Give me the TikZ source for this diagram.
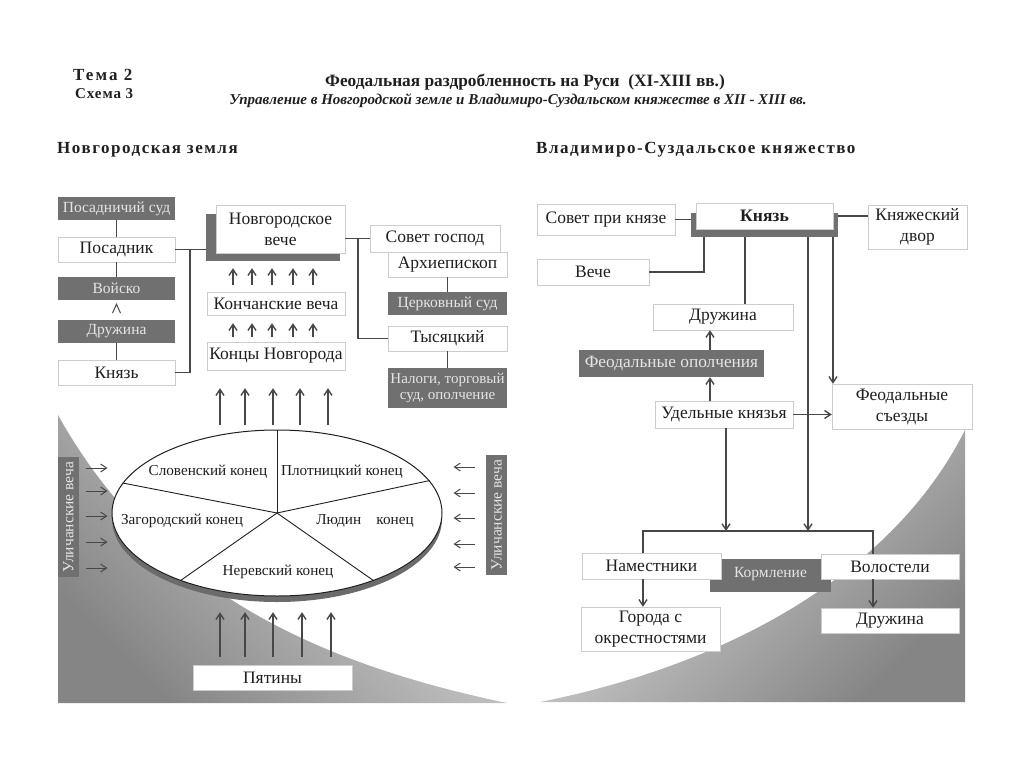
\documentclass[tikz,border=0pt]{standalone}
\usepackage{fontspec}
\setmainfont{Liberation Serif}
\usetikzlibrary{arrows.meta, positioning, calc, shapes.geometric}
\definecolor{mainBlack}{gray}{0.12}
\definecolor{lineGray}{gray}{0.28}
\definecolor{borderGray}{gray}{0.8}
\definecolor{boxGray}{gray}{0.44}
\definecolor{textLight}{gray}{0.9}
\definecolor{edgeGray}{gray}{0.42}
\definecolor{shadeDark}{gray}{0.52}
\definecolor{shadeLight}{gray}{0.88}

\tikzset{
  box/.style={draw=borderGray, fill=white, text=mainBlack, align=center, inner sep=1pt,
    font=\fontsize{17.5}{21}\selectfont},
  darkbox/.style={fill=boxGray, text=textLight, align=center, inner sep=1pt,
    font=\fontsize{15.5}{16.5}\selectfont},
  shadowbox/.style={fill=boxGray, inner sep=0pt},
  endlabel/.style={text=mainBlack, font=\fontsize{15.2}{16}\selectfont},
  heading/.style={anchor=west, inner sep=0pt, text=mainBlack},
  link/.style={draw=lineGray, line width=1.4pt},
  arr/.style={link, -{Straight Barb[length=6pt,width=8pt]}},
}

\begin{document}
\begin{tikzpicture}[x=1pt, y=-1pt]
    \useasboundingbox (0,0) rectangle (1024,767);

    % Background
    \shade[top color=shadeLight, bottom color=shadeDark, shading angle=-45]
      (58,415) .. controls (150,580) and (300,660) .. (507,703) -- (58,703) -- cycle;
    \shade[top color=shadeLight, bottom color=shadeDark, shading angle=45]
      (540,702) .. controls (750,660) and (900,560) .. (965,430) -- (965,702) -- cycle;

    % Headings
    \node[heading, font=\fontsize{17}{18}\selectfont\bfseries\addfontfeatures{LetterSpace=12}] (tema) at (73,75) {Тема 2};
    \node[heading, font=\fontsize{15}{16}\selectfont\bfseries\addfontfeatures{LetterSpace=6}] (shema) at (75,94) {Схема 3};
    \node[text=mainBlack, font=\fontsize{17.3}{18}\selectfont\bfseries] (title) at (525,82) {Феодальная раздробленность на Руси\ \ (XI-XIII вв.)};
    \node[text=mainBlack, font=\fontsize{15}{16}\selectfont\bfseries\itshape] (subtitle) at (518,101) {Управление в Новгородской земле и Владимиро-Суздальском княжестве в XII - XIII вв.};
    \node[heading, font=\fontsize{17}{18}\selectfont\bfseries\addfontfeatures{LetterSpace=9}] (novhead) at (57,150) {Новгородская земля};
    \node[heading, font=\fontsize{17}{18}\selectfont\bfseries\addfontfeatures{LetterSpace=9}] (vladhead) at (536,150) {Владимиро-Суздальское княжество};

    % Novgorod: left column
    \node[darkbox, minimum width=117, minimum height=23] (possud) at (116.5,208.5) {Посадничий суд};
    \node[box, minimum width=117, minimum height=25] (posadnik) at (116.5,249.5) {Посадник};
    \node[darkbox, minimum width=117, minimum height=23] (voysko) at (116.5,288.5) {Войско};
    \node[darkbox, minimum width=117, minimum height=23] (druzhina) at (116.5,331.5) {Дружина};
    \node[box, minimum width=117, minimum height=25] (knyaz) at (116.5,372.5) {Князь};

    % Novgorod: veche
    \node[shadowbox, minimum width=134, minimum height=47] (vecheshadow) at (273,237.5) {};
    \node[box, minimum width=129, minimum height=48] (veche) at (280.5,229) {Новгородское\\вече};
    \node[box, minimum width=138, minimum height=23] (konveche) at (276,303.5) {Кончанские веча};
    \node[box, minimum width=138, minimum height=28] (koncy) at (276,356) {Концы Новгорода};

    % Novgorod: right column
    \node[box, minimum width=130, minimum height=27] (sovet) at (435,238.5) {Совет господ};
    \node[box, minimum width=119, minimum height=25] (arhi) at (447.5,264.5) {Архиепископ};
    \node[darkbox, minimum width=119, minimum height=23] (cerksud) at (447.5,303.5) {Церковный суд};
    \node[box, minimum width=119, minimum height=25] (tys) at (447.5,338.5) {Тысяцкий};
    \node[darkbox, minimum width=119, minimum height=40, font=\fontsize{15}{16.5}\selectfont] (nalogi) at (447.5,388) {Налоги, торговый\\суд, ополчение};

    % Novgorod: ends of the city
    \node[ellipse, fill=edgeGray, minimum width=330, minimum height=166] (konciedge) at (277,519) {};
    \node[ellipse, draw=mainBlack, line width=1pt, fill=white, minimum width=330, minimum height=166] (konci) at (277,513) {};
    \foreach \a in {90,169,12,215,325}
      \draw[mainBlack, line width=0.9pt] (konci.center) -- (konci.\a);
    \node[endlabel] (slov) at (208,472) {Словенский конец};
    \node[endlabel] (plot) at (342,472) {Плотницкий конец};
    \node[endlabel] (zagor) at (182,521) {Загородский конец};
    \node[endlabel] (lyud) at (365,521) {Людин\quad конец};
    \node[endlabel] (nerev) at (278,572) {Неревский конец};

    \node[darkbox, rotate=90, minimum width=120, minimum height=21, font=\fontsize{15.5}{16}\selectfont] (ulleft) at (68.5,517) {Уличанские веча};
    \node[darkbox, rotate=90, minimum width=120, minimum height=21, font=\fontsize{15.5}{16}\selectfont] (ulright) at (496.5,515) {Уличанские веча};
    \node[box, minimum width=159, minimum height=25] (pyatiny) at (272.5,677.5) {Пятины};

    % Novgorod: connectors
    \draw[link] (possud) -- (posadnik);
    \draw[link] (posadnik) -- (voysko);
    \draw[link] (druzhina) -- (knyaz);
    \draw[link, line width=1pt] ($(voysko.south)+(-4,13)$) -- ($(voysko.south)+(0,4)$) -- ($(voysko.south)+(4,13)$);
    \coordinate (jleft) at (190,249.5);
    \draw[link] (posadnik.east) -- (posadnik.east -| vecheshadow.west);
    \draw[link] (knyaz.east) -| (jleft);
    \draw[link] (sovet.west -| veche.east) -- (sovet.west);
    \coordinate (jright) at (358,238.5);
    \draw[link] (jright) |- (tys.west);
    \draw[link] (arhi) -- (cerksud);
    \draw[link] (tys) -- (nalogi);

    \foreach \x in {233,252,272,293,313} {
      \draw[arr, shorten <=7pt, shorten >=7pt] (\x,0 |- konveche.north) -- (\x,0 |- vecheshadow.south);
      \draw[arr, shorten <=5pt, shorten >=8pt] (\x,0 |- koncy.north) -- (\x,0 |- konveche.south);
    }
    \foreach \x in {220,245,273,300,328}
      \draw[arr, shorten <=5pt, shorten >=18pt] (\x,0 |- konci.north) -- (\x,0 |- koncy.south);
    \foreach \x in {220,245,273,302,331}
      \draw[arr, shorten <=8pt, shorten >=10pt] (\x,0 |- pyatiny.north) -- (\x,0 |- konciedge.south);
    \foreach \y in {468,491,516,542,568}
      \draw[arr, line width=1pt, shorten <=7pt, shorten >=4pt] (ulleft.south |- 0,\y) -- (konci.west |- 0,\y);
    \foreach \y in {467,493,518,544,567}
      \draw[arr, line width=1pt, shorten <=11pt, shorten >=11pt] (ulright.north |- 0,\y) -- (konci.east |- 0,\y);

    % Vladimir-Suzdal
    \node[box, minimum width=138, minimum height=31] (sovetk) at (606,219.5) {Совет при князе};
    \node[shadowbox, minimum width=147, minimum height=24] (knyazshadow) at (764.5,225) {};
    \node[box, font=\fontsize{17.5}{21}\selectfont\bfseries, minimum width=137, minimum height=26] (knyazr) at (764.5,216) {Князь};
    \node[box, minimum width=99, minimum height=44] (dvor) at (917.5,227) {Княжеский\\двор};
    \node[box, minimum width=112, minimum height=26] (vecher) at (593,272) {Вече};
    \node[box, minimum width=140, minimum height=26] (druzhr) at (723,317) {Дружина};
    \node[darkbox, minimum width=185, minimum height=27, font=\fontsize{17.3}{18}\selectfont] (opol) at (671.5,363.5) {Феодальные ополчения};
    \node[box, minimum width=138, minimum height=27] (udel) at (724,414.5) {Удельные князья};
    \node[box, minimum width=140, minimum height=45] (sezdy) at (902,406.5) {Феодальные\\съезды};
    \node[darkbox, minimum width=121, minimum height=33, text depth=7pt] (korm) at (770.5,575.5) {Кормление};
    \node[box, minimum width=139, minimum height=26] (nam) at (651.5,566) {Наместники};
    \node[box, minimum width=138, minimum height=25] (volost) at (890,566.5) {Волостели};
    \node[box, minimum width=139, minimum height=44] (goroda) at (650.5,629) {Города с\\окрестностями};
    \node[box, minimum width=138, minimum height=25] (druzh2) at (890,620.5) {Дружина};

    % Vladimir-Suzdal: connectors
    \draw[link] (sovetk.east) -- (sovetk.east -| knyazshadow.west);
    \draw[link] (knyazr.east -| knyazshadow.east) -- (knyazr.east -| dvor.west);
    \draw[link] (vecher.east) -| ($(knyazshadow.south west)+(13,0)$);
    \draw[link] (745,0 |- knyazshadow.south) -- (745,0 |- druzhr.north);
    \draw[arr] (710,0 |- opol.north) -- (710,0 |- druzhr.south);
    \draw[arr] (710,0 |- udel.north) -- (710,0 |- opol.south);
    \draw[arr] (udel.east) -- (udel.east -| sezdy.west);
    \draw[arr] (833,0 |- knyazshadow.south) -- (833,0 |- sezdy.north);
    \coordinate (barl) at (643,531);
    \coordinate (barr) at (873,531);
    \draw[arr] (808,0 |- knyazshadow.south) -- (808,0 |- barr);
    \draw[arr] (726,0 |- udel.south) -- (726,0 |- barl);
    \draw[link] (nam.north -| barl) -- (barl) -- (barr) -- (volost.north -| barr);
    \draw[arr] (nam.south -| barl) -- (goroda.north -| barl);
    \draw[arr] (volost.south -| barr) -- (druzh2.north -| barr);
\end{tikzpicture}
\end{document}
